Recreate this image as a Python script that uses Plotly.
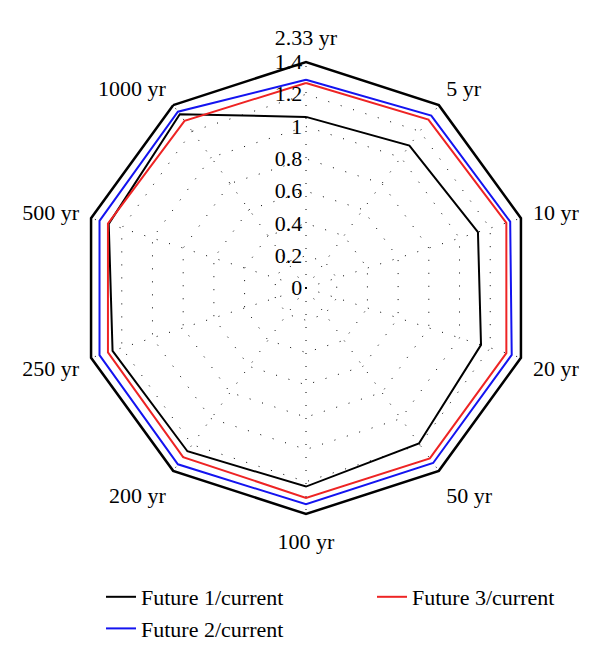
import plotly.graph_objects as go

categories = ["2.33 yr", "5 yr", "10 yr", "20 yr", "50 yr", "100 yr", "200 yr", "250 yr", "500 yr", "1000 yr"]
future1 = [1.06, 1.09, 1.12, 1.14, 1.19, 1.23, 1.25, 1.26, 1.285, 1.33]
future2 = [1.29, 1.32, 1.33, 1.34, 1.34, 1.34, 1.35, 1.345, 1.345, 1.35]
future3 = [1.27, 1.29, 1.305, 1.305, 1.305, 1.30, 1.295, 1.29, 1.29, 1.28]
radial_ticks = [0, 0.2, 0.4, 0.6, 0.8, 1, 1.2, 1.4]
radial_ticktext = ["0", "0.2", "0.4", "0.6", "0.8", "1", "1.2", "1.4"]

series = [
    ("Future 1/current", future1, "#000000", "legend"),
    ("Future 2/current", future2, "#1414f0", "legend"),
    ("Future 3/current", future3, "#ee2424", "legend2"),
]

fig = go.Figure()
for name, vals, color, leg in series:
    fig.add_trace(go.Scatterpolar(
        r=vals + vals[:1],
        theta=categories + categories[:1],
        mode="lines",
        name=name,
        legend=leg,
        line=dict(color=color, width=2),
    ))

W, H = 600, 658
OFF = 8  # default page body margin


def px_x(x):
    return (x - OFF) / W


def px_y(y):
    return (H - (y - OFF)) / H


FONT = "Liberation Serif"
FS = 22
DOTS = "1px,12px"
fig.update_layout(
    width=W, height=H,
    margin=dict(l=0, r=0, t=0, b=0),
    paper_bgcolor="white",
    plot_bgcolor="white",
    font=dict(family=FONT, size=FS, color="black"),
    polar=dict(
        domain=dict(x=[px_x(80), px_x(532)], y=[px_y(514), px_y(62)]),
        bgcolor="white",
        gridshape="linear",
        angularaxis=dict(
            direction="clockwise",
            rotation=90,
            showline=True,
            linecolor="black",
            linewidth=2.5,
            showgrid=True,
            gridcolor="black",
            griddash=DOTS,
            gridwidth=1.3,
            ticks="outside",
            ticklen=7,
            tickcolor="rgba(0,0,0,0)",
            tickfont=dict(family=FONT, size=FS),
        ),
        radialaxis=dict(
            range=[0, 1.4],
            angle=90,
            tickangle=90,
            tickvals=radial_ticks,
            ticktext=radial_ticktext,
            ticksuffix=" ",
            showline=False,
            showgrid=True,
            gridcolor="black",
            griddash=DOTS,
            gridwidth=1.3,
            ticks="",
            tickfont=dict(family=FONT, size=FS),
            side="counterclockwise",
        ),
    ),
    legend=dict(
        orientation="v",
        x=px_x(101), xanchor="left",
        y=px_y(576), yanchor="top",
        font=dict(family=FONT, size=FS),
        tracegroupgap=0,
    ),
    legend2=dict(
        orientation="v",
        x=px_x(372), xanchor="left",
        y=px_y(576), yanchor="top",
        font=dict(family=FONT, size=FS),
        tracegroupgap=0,
    ),
    showlegend=True,
)

fig.write_html("out.html")
